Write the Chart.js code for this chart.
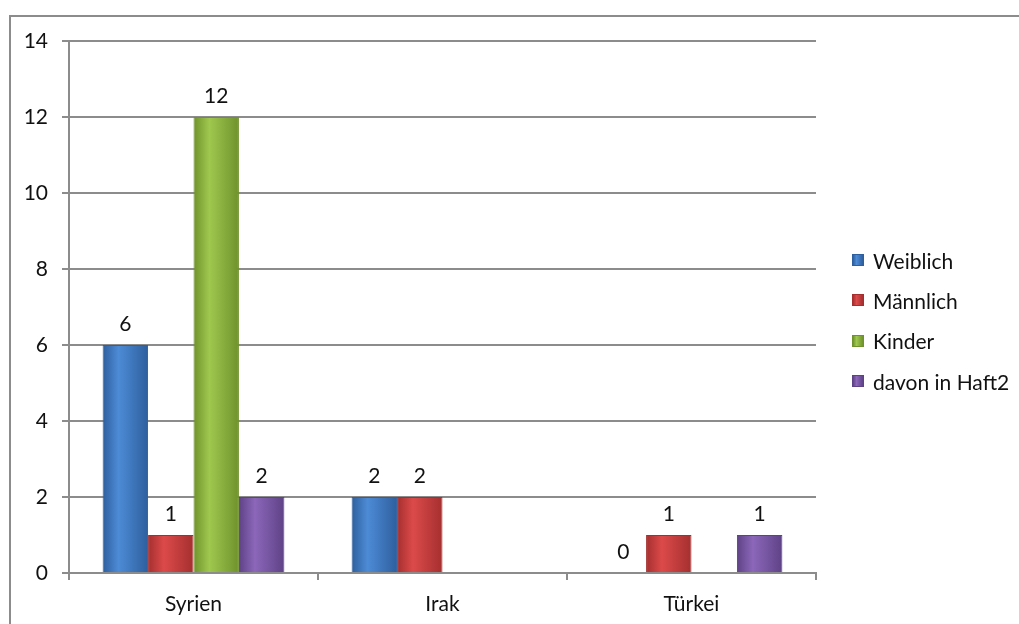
<!DOCTYPE html>
<html>
<head>
<meta charset="utf-8">
<script src="https://cdn.jsdelivr.net/npm/chart.js@4/dist/chart.umd.min.js"></script>
<style>
  body { margin:0; background:#fff; }
  #wrap { position:relative; width:1019px; height:624px; overflow:hidden; }
  #frame { position:absolute; left:9px; top:15px; width:1040px; height:640px; border:2px solid #8c8c8c; box-sizing:border-box; }
  #legend { position:absolute; left:852px; top:240px; font-family:Lato, sans-serif; font-size:21px; color:#111; }
  #legend div { height:40.3px; display:flex; align-items:center; }
  #legend span.box { display:inline-block; width:10px; height:10px; margin-right:9px; }
</style>
</head>
<body>
<div id="wrap">
  <div id="frame"></div>
  <canvas id="chart" width="1019" height="624"></canvas>
  <div id="legend"></div>
</div>
<script>
// values
let categories=['Syrien','Irak','Türkei'];
let weiblich=[6,2,0];
let maennlich=[1,2,1];
let kinder=[12,null,null];
let haft=[2,null,1];
let seriesNames=['Weiblich','Männlich','Kinder','davon in Haft2'];
let yTicks=[0,2,4,6,8,10,12,14];

// [dark edge, light middle]
let colors=[
  ['#2e5f9e','#4d8bd6'],
  ['#a52f2f','#dc4a4a'],
  ['#6f922c','#9fc84f'],
  ['#5e4286','#8c67ba']
];

let font='Lato, sans-serif';

// fill each bar with a side-to-side shade, like the excel bars
const shadePlugin={
  id:'shade',
  beforeDatasetsDraw(chart){
    const c=chart.ctx;
    chart.data.datasets.forEach(function(ds,i){
      chart.getDatasetMeta(i).data.forEach(function(bar){
        let l=bar.x-bar.width/2, r=bar.x+bar.width/2;
        let g=c.createLinearGradient(l,0,r,0);
        g.addColorStop(0,colors[i][0]);
        g.addColorStop(0.35,colors[i][1]);
        g.addColorStop(1,colors[i][0]);
        bar.options.backgroundColor=g;
      });
    });
  }
};

const labelPlugin={
  id:'valuelabels',
  afterDatasetsDraw(chart){
    const c=chart.ctx;
    c.save();
    c.font='21px '+font;
    c.fillStyle='#111';
    c.textAlign='center';
    c.textBaseline='alphabetic';
    chart.data.datasets.forEach(function(ds,i){
      chart.getDatasetMeta(i).data.forEach(function(bar,j){
        let v=ds.data[j];
        if(v===null||v===undefined) return;
        c.fillText(String(v),bar.x,bar.y-14);
      });
    });
    c.restore();
  }
};

let datasets=[weiblich,maennlich,kinder,haft].map(function(d,i){
  return {
    label:seriesNames[i],
    data:d,
    // scriptable so every bar gets its own options object
    backgroundColor:function(){ return colors[i][1]; },
    borderColor:colors[i][0],
    borderWidth:1,
    categoryPercentage:0.73,
    barPercentage:1.0
  };
});

new Chart('chart',{
  type:'bar',
  data:{labels:categories,datasets:datasets},
  plugins:[shadePlugin,labelPlugin],
  options:{
    responsive:false,
    animation:false,
    layout:{padding:{left:0,top:41,right:203,bottom:0}},
    plugins:{legend:{display:false},tooltip:{enabled:false}},
    scales:{
      x:{
        grid:{drawOnChartArea:false,drawTicks:true,tickLength:7,color:'#8c8c8c',lineWidth:2},
        border:{color:'#8c8c8c',width:2},
        ticks:{color:'#111',font:{family:font,size:21},padding:12},
        afterFit:function(s){ s.height=51; }
      },
      y:{
        min:0,max:14,
        afterBuildTicks:function(s){ s.ticks=yTicks.map(function(v){return {value:v};}); },
        grid:{color:'#8c8c8c',lineWidth:2,tickLength:7},
        border:{color:'#8c8c8c',width:2},
        ticks:{color:'#111',font:{family:font,size:21},padding:14},
        afterFit:function(s){ s.width=69; }
      }
    }
  }
});

// legend on the right
let lg=document.getElementById('legend');
seriesNames.forEach(function(n,i){
  let row=document.createElement('div');
  let box=document.createElement('span');
  box.className='box';
  box.style.background='linear-gradient(to right,'+colors[i][0]+','+colors[i][1]+' 35%,'+colors[i][0]+')';
  box.style.border='1px solid '+colors[i][0];
  row.appendChild(box);
  row.appendChild(document.createTextNode(n));
  lg.appendChild(row);
});
</script>
</body>
</html>
